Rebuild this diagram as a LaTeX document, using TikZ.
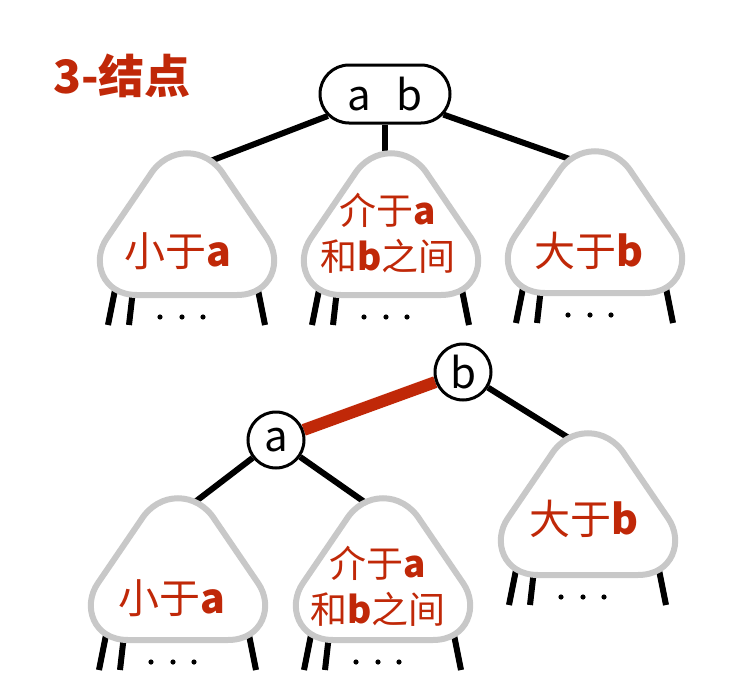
\documentclass[tikz,border=0pt]{standalone}
\usepackage{fontspec}
\newfontfamily\cjk{Noto Sans CJK SC}
\usetikzlibrary{backgrounds,shapes.misc}
\definecolor{treered}{RGB}{192,40,8}
\definecolor{treegray}{RGB}{200,200,200}

\tikzset{
	key/.style={circle, draw=black, line width=3pt, fill=white, minimum size=56pt, inner sep=0pt, font=\fontsize{42}{44}\cjk},
	keys/.style={rounded rectangle, draw=black, line width=3pt, fill=white, minimum width=130pt, minimum height=58pt, inner sep=0pt, font=\fontsize{42}{44}\cjk},
	link/.style={line width=6pt, black},
	redlink/.style={line width=12pt, treered},
	keyrange/.style={font=\fontsize{41}{46}\cjk, text=treered, align=center, inner sep=0pt},
	keyrange2/.style={keyrange, font=\fontsize{37}{46}\cjk},
}

% subtree: name, x, y (top of outline)
\newcommand{\subtree}[3]{%
	\begin{scope}[shift={(#2,#3)}]
		\foreach \xa/\xb in {-72/-79, -54/-58, 71/78} \draw[link] (\xa,140) -- (\xb,175);
		\foreach \xd in {-27,-5,16} \fill (\xd,167) circle (2.6pt);
		\draw[treegray, line width=6pt, fill=white]
			(-37,25) .. controls (-19,-4) and (19,-4) .. (37,25) -- (80,88)
			.. controls (96,111) and (85,145) .. (50,145) -- (-50,145)
			.. controls (-85,145) and (-96,111) .. (-80,88) -- cycle;
		\coordinate (#1) at (0,20);
	\end{scope}}

\begin{document}
\begin{tikzpicture}[x=1pt, y=-1pt]
	\useasboundingbox (0,0) rectangle (740,696);
	
	% title
	\node[anchor=west, font=\fontsize{46}{48}\cjk\bfseries, text=treered, inner sep=0pt] (title) at (53,76) {3-结点};
	
	% 3-node
	\node[keys] (root) at (385,94) {a\hspace{0.6em}b};
	\subtree{t1}{187}{150}
	\subtree{t2}{391}{150}
	\subtree{t3}{595}{148}
	\node[keyrange] (t1l) at (178,251) {小于{\bfseries a}};
	\node[keyrange2] (t2l) at (388,233) {介于{\bfseries a}\\和{\bfseries b}之间};
	\node[keyrange] (t3l) at (589,251) {大于{\bfseries b}};
	
	% red-black tree
	\node[key] (b) at (463,372) {b};
	\node[key] (a) at (276,440) {a};
	\subtree{b1}{178}{495}
	\subtree{b2}{383}{495}
	\subtree{b3}{588}{430}
	\node[keyrange] (b1l) at (172,598) {小于{\bfseries a}};
	\node[keyrange2] (b2l) at (378,586) {介于{\bfseries a}\\和{\bfseries b}之间};
	\node[keyrange] (b3l) at (584,519) {大于{\bfseries b}};
	
	% links
	\begin{scope}[on background layer]
		\draw[link] (root) -- (t1);
		\draw[link] (root) -- (root |- t2);
		\draw[link] (root) -- (t3);
		\draw[redlink] (a) -- (b);
		\draw[link] (a) -- (b1);
		\draw[link] (a) -- (b2);
		\draw[link] (b) -- (b3);
	\end{scope}
	
\end{tikzpicture}
\end{document}
